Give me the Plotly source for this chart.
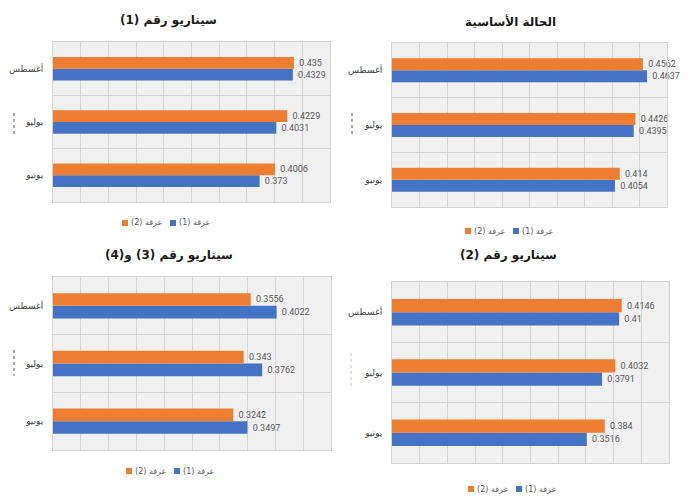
import plotly.graph_objects as go

# Months (bottom to top) and room names
months = ["يونيو", "يوليو", "أغسطس"]
room1_name = "غرفة (1)"
room2_name = "غرفة (2)"

# Panel titles
title_base = "الحالة الأساسية"
title_s1 = "سيناريو رقم (1)"
title_s2 = "سيناريو رقم (2)"
title_s34 = "سيناريو رقم (3) و(4)"

# Values per scenario, ordered as `months`
base_room1 = [0.4054, 0.4395, 0.4637]
base_room2 = [0.414, 0.4426, 0.4562]
s1_room1 = [0.373, 0.4031, 0.4329]
s1_room2 = [0.4006, 0.4229, 0.435]
s2_room1 = [0.3516, 0.3791, 0.41]
s2_room2 = [0.384, 0.4032, 0.4146]
s34_room1 = [0.3497, 0.3762, 0.4022]
s34_room2 = [0.3242, 0.343, 0.3556]

BLUE = "#4472C4"
ORANGE = "#ED7D31"
W, H = 688, 497

# (title, room1, room2, x-domain px, y-domain px (top, bottom), title pos px, legend centre px)
panels = [
    (title_s1, s1_room1, s1_room2, (53, 330), (42, 202), (168, 20), (166, 223)),
    (title_base, base_room1, base_room2, (392, 667), (43, 207), (510, 22), (509, 231)),
    (title_s34, s34_room1, s34_room2, (53, 331), (277, 450), (169, 255), (170, 471)),
    (title_s2, s2_room1, s2_room2, (392, 669), (282, 463), (508, 255), (512, 489)),
]

fig = go.Figure()
layout = {}
annotations = []
shapes = []


def px_x(v):
    return v / W


def px_y(v):
    return 1 - v / H


def legend_entry(cx, cy, color, label):
    # small colour square followed by its label
    shapes.append(dict(type="rect", xref="paper", yref="paper",
                       x0=px_x(cx), x1=px_x(cx + 6), y0=px_y(cy - 3), y1=px_y(cy + 3),
                       fillcolor=color, line=dict(width=0)))
    annotations.append(dict(text=label, x=px_x(cx + 7), y=px_y(cy), xref="paper", yref="paper",
                            showarrow=False, xanchor="left", yanchor="middle",
                            font=dict(family="DejaVu Sans", size=8, color="#595959")))


for i, (title, r1, r2, xd, yd, tpos, lpos) in enumerate(panels, start=1):
    sfx = "" if i == 1 else str(i)
    xa, ya = "x" + sfx, "y" + sfx
    for name, vals, color in ((room1_name, r1, BLUE), (room2_name, r2, ORANGE)):
        fig.add_trace(go.Bar(
            x=vals, y=months, orientation="h", name=name,
            marker=dict(color=color, line=dict(width=0)),
            text=["\u00a0" + f"{v:g}" for v in vals], textposition="outside",
            textfont=dict(family="Roboto", size=9, color="#595959"),
            cliponaxis=False, xaxis=xa, yaxis=ya, showlegend=False,
        ))
    layout["xaxis" + sfx] = dict(
        domain=[px_x(xd[0]), px_x(xd[1])], range=[0, 0.5], dtick=0.05,
        showticklabels=False, showgrid=True, gridcolor="#d4d4d4", gridwidth=1,
        zeroline=False, showline=True, linecolor="#d4d4d4", mirror=True,
        anchor=ya, fixedrange=True,
    )
    layout["yaxis" + sfx] = dict(
        domain=[px_y(yd[1]), px_y(yd[0])], type="category",
        categoryorder="array", categoryarray=months,
        tickson="boundaries", ticks="", showgrid=True, gridcolor="#d4d4d4",
        showline=True, linecolor="#d4d4d4", mirror=True,
        tickfont=dict(family="DejaVu Sans", size=9, color="#404040"),
        ticklabelstandoff=7, anchor=xa, fixedrange=True,
    )
    annotations.append(dict(
        text=f"<b>{title}</b>", x=px_x(tpos[0]), y=px_y(tpos[1]),
        xref="paper", yref="paper", showarrow=False,
        font=dict(family="DejaVu Sans", size=12, color="#1a1a1a"),
        xanchor="center", yanchor="middle",
    ))
    legend_entry(lpos[0] - 44, lpos[1], ORANGE, room2_name)
    legend_entry(lpos[0] + 4, lpos[1], BLUE, room1_name)

# faint dotted ticks to the left of each panel
for xp, y0, y1, col in ((14, 113, 135, "#555555"), (352, 113, 137, "#555555"),
                        (14, 350, 376, "#555555"), (351, 353, 388, "#c8c8c8")):
    shapes.append(dict(type="line", xref="paper", yref="paper",
                       x0=px_x(xp), x1=px_x(xp), y0=px_y(y0), y1=px_y(y1),
                       line=dict(color=col, width=1, dash="dot")))

fig.update_layout(
    **layout,
    annotations=annotations,
    shapes=shapes,
    barmode="group",
    bargap=0.56,
    bargroupgap=0,
    width=W, height=H,
    margin=dict(l=0, r=0, t=0, b=0),
    paper_bgcolor="white",
    plot_bgcolor="#f0f0f0",
    showlegend=False,
)

fig.write_html("out.html")
